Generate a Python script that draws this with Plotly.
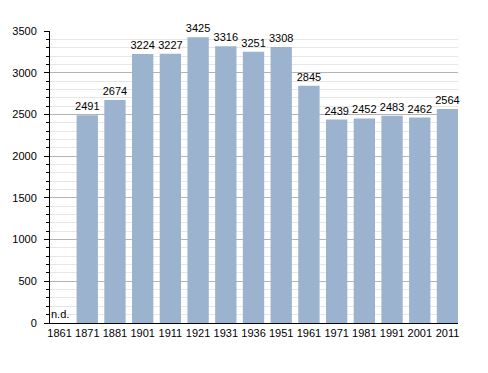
import plotly.graph_objects as go

years = ["1861", "1871", "1881", "1901", "1911", "1921", "1931", "1936",
         "1951", "1961", "1971", "1981", "1991", "2001", "2011"]
population = [None, 2491, 2674, 3224, 3227, 3425, 3316, 3251,
              3308, 2845, 2439, 2452, 2483, 2462, 2564]
labels = ["" if v is None else str(v) for v in population]

fig = go.Figure()
fig.add_trace(go.Bar(
    x=list(range(len(years))), y=population,
    marker=dict(color="#9bb3cf", line=dict(width=0)),
    text=labels, textposition="outside", cliponaxis=False,
    textfont=dict(size=11, color="#000", family="Liberation Sans, Arial, sans-serif"),
    width=0.77, hoverinfo="skip",
))
fig.add_annotation(x=0, y=0, text="n.d.", showarrow=False, xanchor="center",
                   yanchor="bottom", yshift=1,
                   font=dict(size=11, color="#000", family="Liberation Sans, Arial, sans-serif"))

fig.update_layout(
    width=488, height=373,
    margin=dict(l=50, r=30, t=31, b=50, autoexpand=False),
    plot_bgcolor="white", paper_bgcolor="white",
    showlegend=False, bargap=0.23,
    font=dict(family="Liberation Sans, Arial, sans-serif", size=11, color="#000"),
    uniformtext=dict(minsize=11, mode="show"),
)
fig.update_xaxes(
    range=[-0.345, 14.38], tickmode="array",
    tickvals=list(range(len(years))), ticktext=years,
    showline=True, linecolor="#000", linewidth=1,
    showgrid=False, ticks="", zeroline=False, automargin=False,
    tickfont=dict(size=11),
)
fig.update_yaxes(
    range=[0, 3500], tickmode="linear", tick0=0, dtick=500,
    showline=True, linecolor="#000", linewidth=1,
    gridcolor="#b4b4b4", gridwidth=1, automargin=False,
    ticks="outside", ticklen=5, tickcolor="#000", tickwidth=1,
    ticklabelstandoff=5,
    zeroline=False, tickfont=dict(size=11),
    minor=dict(dtick=100, tick0=0, showgrid=True, gridcolor="#e6e6e6", gridwidth=1,
               ticks="outside", ticklen=3, tickcolor="#000", tickwidth=1),
)

fig.write_html("out.html", config={"displayModeBar": False, "staticPlot": True},
               post_script="document.body.style.margin='0';document.body.style.overflow='hidden';")
